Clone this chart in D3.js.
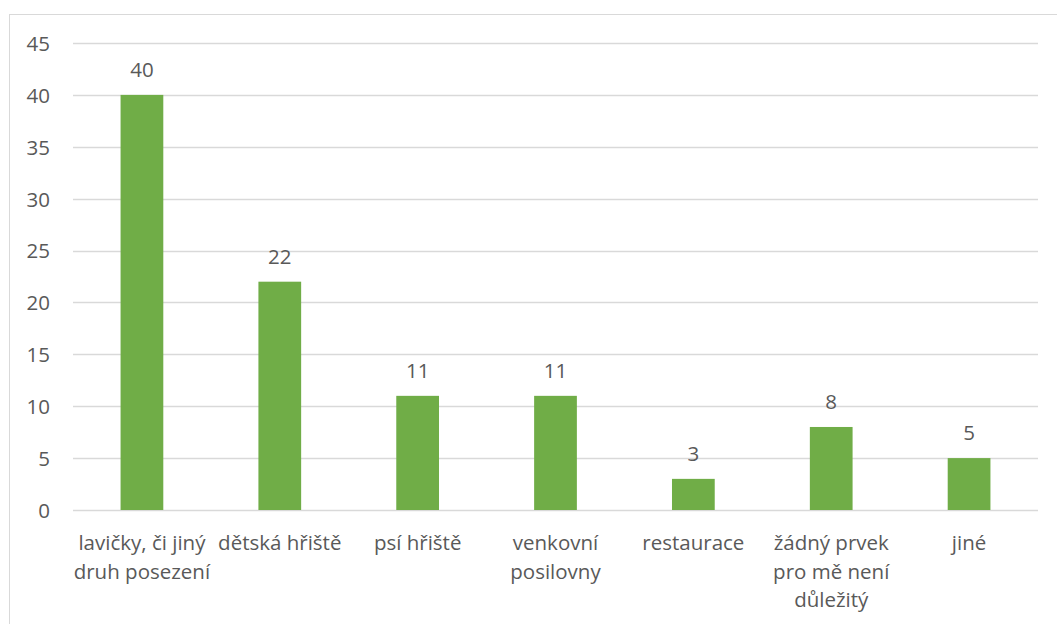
<!DOCTYPE html>
<html><head><meta charset="utf-8">
<script src="https://cdn.jsdelivr.net/npm/d3@7"></script>
<style>body{margin:0;background:#fff}svg{display:block}text{font-family:"Open Sans","Noto Sans",sans-serif;fill:#595959}</style>
</head><body><svg id="c" width="1057" height="624"></svg>
<script>
const categories = ["lavičky, či jiný\ndruh posezení","dětská hřiště","psí hřiště","venkovní\nposilovny","restaurace","žádný prvek\npro mě není\ndůležitý","jiné"];
const values = [40,22,11,11,3,8,5];
const yTicks = [0,5,10,15,20,25,30,35,40,45];
const FS = "20.5px";

const svg = d3.select("#c");
svg.append("rect").attr("x",9.5).attr("y",14.5).attr("width",1100).attr("height",700)
  .attr("fill","none").attr("stroke","#d9d9d9");

const x = d3.scaleBand().domain(categories).range([73,1038]).paddingInner(0.69).paddingOuter(0.345);
const y = d3.scaleLinear().domain([0,45]).range([510,43]);

const g = svg.append("g");
g.selectAll("line.grid").data(yTicks).join("line")
  .attr("x1",73).attr("x2",1038).attr("y1",d=>Math.round(y(d))+0.5).attr("y2",d=>Math.round(y(d))+0.5)
  .attr("stroke","#d9d9d9").attr("stroke-width",1.3);

const yAxis = d3.axisLeft(y).tickValues(yTicks).tickSize(0).tickPadding(0);
const ya = svg.append("g").attr("transform","translate(50,0)").call(yAxis);
ya.select(".domain").remove();
ya.attr("font-family",null).attr("font-size",null);
ya.selectAll("text").style("font-size",FS).attr("fill","#595959").attr("dy","0.36em");

g.selectAll("rect.bar").data(values).join("rect")
  .attr("x",(d,i)=>x(categories[i])).attr("width",x.bandwidth())
  .attr("y",d=>y(d)).attr("height",d=>y(0)-y(d)).attr("fill","#70ad47");

g.selectAll("text.val").data(values).join("text")
  .attr("x",(d,i)=>x(categories[i])+x.bandwidth()/2).attr("y",d=>y(d)-18)
  .attr("text-anchor","middle").style("font-size",FS).text(d=>d);

const xl = svg.append("g");
categories.forEach(c=>{
  const t = xl.append("text").attr("text-anchor","middle").style("font-size",FS);
  c.split("\n").forEach((ln,j)=>{
    t.append("tspan").attr("x",x(c)+x.bandwidth()/2).attr("y",550+j*28.5).text(ln);
  });
});
</script></body></html>
